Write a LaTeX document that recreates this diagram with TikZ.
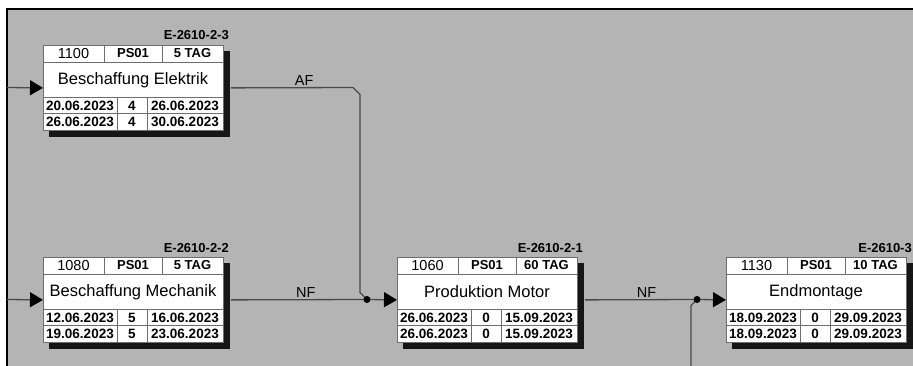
\documentclass[tikz,border=0pt]{standalone}
\usepackage{fontspec}
\setmainfont{Liberation Sans}
\usetikzlibrary{arrows.meta}
\definecolor{canvas}{HTML}{B4B4B4}
\definecolor{wire}{HTML}{4A4A4A}
\definecolor{rim}{HTML}{6E6E6E}
\definecolor{drop}{HTML}{161616}

\newcommand{\hdrfont}{\fontsize{13}{14}\selectfont}

% one network box: name, top left, number, duration, title, code, date rows
\newcommand{\netbox}[8]{%
  \begin{scope}[shift={#2}]
    \fill[drop] (6,6) rectangle (187,92);
    \node[taskbox] (#1) at (0,0) {};
    \draw[cell] (0,17) -- (180,17) (0,52) -- (180,52) (0,68.5) -- (180,68.5)
      (61,0) -- (61,17) (119,0) -- (119,17)
      (74,52) -- (74,85) (104,52) -- (104,85);
    \node[hdr, font=\fontsize{14.5}{15}\selectfont] (#1-nr) at (30.5,8.5) {#3};
    \node[hdr, font=\hdrfont\bfseries] (#1-ps) at (90,8.5) {PS01};
    \node[hdr, font=\hdrfont\bfseries] (#1-dur) at (149.5,8.5) {#4};
    \node[title] (#1-name) at (90,35) {#5};
    \node[code] (#1-code) at (186,-5) {#6};
    \foreach \a/\b/\c [count=\r] in {#7,#8} {
      \node[date] (#1-a\r) at (37,44+16.5*\r) {\a};
      \node[date] (#1-f\r) at (89,44+16.5*\r) {\b};
      \node[date] (#1-e\r) at (142,44+16.5*\r) {\c};
    }
  \end{scope}}

\begin{document}
\begin{tikzpicture}[x=1pt, y=-1pt,
  taskbox/.style={draw=rim, fill=white, line width=0.8pt, anchor=north west,
                  minimum width=180pt, minimum height=85pt, inner sep=0pt},
  cell/.style={draw=rim, line width=0.8pt},
  hdr/.style={font=\hdrfont, inner sep=0pt},
  title/.style={font=\fontsize{16.5}{18}\selectfont, inner sep=0pt},
  date/.style={font=\fontsize{13.5}{14}\selectfont\bfseries, inner sep=0pt},
  code/.style={font=\fontsize{13}{14}\selectfont\bfseries, anchor=base east, inner sep=0pt},
  lbl/.style={font=\fontsize{14.5}{15}\selectfont, above, inner sep=2pt},
  link/.style={draw=wire, line width=1.3pt},
  arr/.style={link, -{Triangle[length=13pt, width=15pt, black]}}]
  \useasboundingbox (0,0) rectangle (913,366);
  \fill[white] (0,0) rectangle (913,366);
  \fill[canvas] (7,9) rectangle (913,366);
  \draw[black, line width=1.2pt] (7,366) -- (7,9) -- (913,9);

  \netbox{b1100}{(43,45)}{1100}{5 TAG}{Beschaffung Elektrik}{E-2610-2-3}
    {20.06.2023/4/26.06.2023}{26.06.2023/4/30.06.2023}
  \netbox{b1080}{(43,257)}{1080}{5 TAG}{Beschaffung Mechanik}{E-2610-2-2}
    {12.06.2023/5/16.06.2023}{19.06.2023/5/23.06.2023}
  \netbox{b1060}{(397,257)}{1060}{60 TAG}{Produktion Motor}{E-2610-2-1}
    {26.06.2023/0/15.09.2023}{26.06.2023/0/15.09.2023}
  \netbox{b1130}{(726,257)}{1130}{10 TAG}{Endmontage}{E-2610-3}
    {18.09.2023/0/29.09.2023}{18.09.2023/0/29.09.2023}

  \coordinate (w1) at (7,87.5);
  \coordinate (w2) at (7,299.5);
  \coordinate (j1) at (367,299.5);
  \coordinate (j2) at (697,299.5);
  \coordinate (s2) at (691,366);
  \coordinate (e4) at (913,299.5);

  \draw[arr] (w1) -- (b1100.west);
  \draw[arr] (w2) -- (b1080.west);
  \draw[link] ([xshift=7pt]b1100.east) -- node[lbl, pos=0.6] {AF} (353,87.5)
    -- (360,94.5) -- (360,292.5) -- (j1);
  \draw[link] ([xshift=7pt]b1080.east) -- node[lbl, pos=0.55] {NF} (j1);
  \draw[arr] (j1) -- (b1060.west);
  \draw[link] ([xshift=7pt]b1060.east) -- node[lbl, pos=0.55] {NF} (j2);
  \draw[link] (s2) -- (691,305.5) -- (j2);
  \draw[arr] (j2) -- (b1130.west);
  \draw[link] ([xshift=7pt]b1130.east) -- (e4);
  \fill[black] (j1) circle (3.5pt);
  \fill[black] (j2) circle (3.5pt);
\end{tikzpicture}
\end{document}
